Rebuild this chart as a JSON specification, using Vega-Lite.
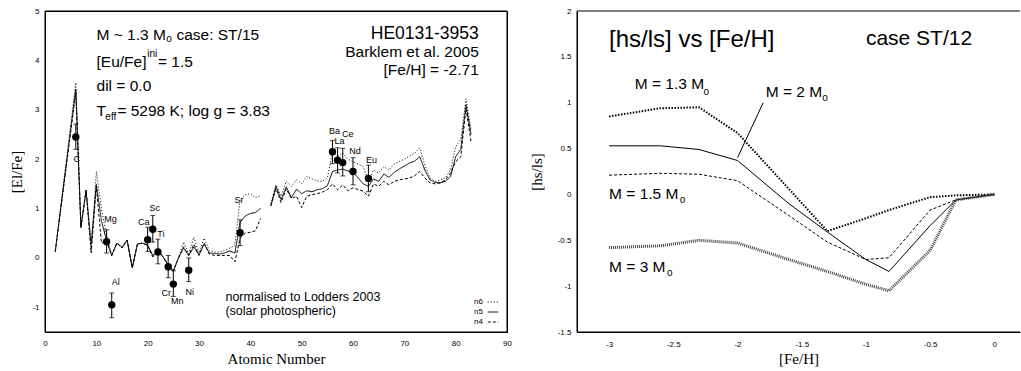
{
"$schema":"https://vega.github.io/schema/vega-lite/v6.json",
"padding":{"left":8,"top":6,"right":0,"bottom":0},
"spacing":17,
"resolve":{"scale":{"strokeDash":"independent"},"legend":{"strokeDash":"independent"}},
"config":{"view":{"stroke":null},"font":"Liberation Sans","axis":{"labelFont":"Liberation Sans","labelColor":"black","domainColor":"black","domainWidth":1,"tickColor":"black","titleColor":"black","titleFont":"Liberation Serif","titleFontWeight":"normal","titleFontSize":15,"labelFontSize":8,"grid":false,"labelFlush":false,"labelExpr":"'' + datum.value"},"text":{"font":"Liberation Sans","color":"black"}},
"datasets":{
"elem":[
{"Z":2,"s":"a","n6":0.13,"n5":0.13,"n4":0.13},
{"Z":6,"s":"a","n6":3.55,"n5":3.42,"n4":3.35},
{"Z":7,"s":"a","n6":0.62,"n5":0.62,"n4":0.62},
{"Z":8,"s":"a","n6":1.37,"n5":1.37,"n4":1.37},
{"Z":9,"s":"a","n6":0.12,"n5":0.28,"n4":0.10},
{"Z":10,"s":"a","n6":1.75,"n5":1.49,"n4":1.45},
{"Z":11,"s":"a","n6":1.00,"n5":0.75,"n4":0.30},
{"Z":12,"s":"a","n6":0.45,"n5":0.35,"n4":0.35},
{"Z":13,"s":"a","n6":0.05,"n5":0.05,"n4":0.05},
{"Z":14,"s":"a","n6":0.30,"n5":0.30,"n4":0.30},
{"Z":15,"s":"a","n6":0.20,"n5":0.22,"n4":0.20},
{"Z":16,"s":"a","n6":0.36,"n5":0.36,"n4":0.36},
{"Z":17,"s":"a","n6":-0.20,"n5":-0.20,"n4":-0.20},
{"Z":18,"s":"a","n6":0.28,"n5":0.28,"n4":0.28},
{"Z":19,"s":"a","n6":0.30,"n5":0.30,"n4":0.30},
{"Z":20,"s":"a","n6":0.25,"n5":0.26,"n4":0.25},
{"Z":21,"s":"a","n6":0.02,"n5":0.05,"n4":0.02},
{"Z":22,"s":"a","n6":0.15,"n5":0.15,"n4":0.15},
{"Z":23,"s":"a","n6":0.02,"n5":0.02,"n4":0.02},
{"Z":24,"s":"a","n6":-0.12,"n5":-0.15,"n4":-0.15},
{"Z":25,"s":"a","n6":-0.25,"n5":-0.27,"n4":-0.27},
{"Z":26,"s":"a","n6":0,"n5":0,"n4":0},
{"Z":27,"s":"a","n6":0.32,"n5":0.20,"n4":0.22},
{"Z":28,"s":"a","n6":0.08,"n5":0.05,"n4":0.05},
{"Z":29,"s":"a","n6":0.42,"n5":0.22,"n4":0.28},
{"Z":30,"s":"a","n6":0.10,"n5":0.06,"n4":0.05},
{"Z":31,"s":"a","n6":0.40,"n5":0.28,"n4":0.30},
{"Z":32,"s":"a","n6":0.15,"n5":0.10,"n4":0.08},
{"Z":33,"s":"a","n6":0.12,"n5":0.09,"n4":0.05},
{"Z":34,"s":"a","n6":0.12,"n5":0.08,"n4":0.05},
{"Z":35,"s":"a","n6":0.15,"n5":0.10,"n4":0.05},
{"Z":36,"s":"a","n6":0.20,"n5":0.14,"n4":0.05},
{"Z":37,"s":"a","n6":0.25,"n5":0.10,"n4":-0.08},
{"Z":38,"s":"a","n6":1.18,"n5":0.72,"n4":0.40},
{"Z":39,"s":"a","n6":1.28,"n5":0.85,"n4":0.50},
{"Z":40,"s":"a","n6":1.30,"n5":0.90,"n4":0.52},
{"Z":41,"s":"a","n6":1.22,"n5":0.92,"n4":0.55},
{"Z":42,"s":"a","n6":1.26,"n5":1.00,"n4":0.80},
{"Z":44,"s":"b","n6":1.10,"n5":1.06,"n4":1.05},
{"Z":45,"s":"b","n6":1.48,"n5":1.45,"n4":1.40},
{"Z":46,"s":"b","n6":1.25,"n5":1.18,"n4":1.12},
{"Z":47,"s":"b","n6":1.55,"n5":1.44,"n4":1.40},
{"Z":48,"s":"b","n6":1.45,"n5":1.22,"n4":1.20},
{"Z":49,"s":"b","n6":1.58,"n5":1.39,"n4":1.25},
{"Z":50,"s":"b","n6":1.50,"n5":1.30,"n4":1.02},
{"Z":51,"s":"b","n6":1.65,"n5":1.36,"n4":1.25},
{"Z":52,"s":"b","n6":1.60,"n5":1.34,"n4":1.28},
{"Z":53,"s":"b","n6":1.56,"n5":1.38,"n4":1.30},
{"Z":54,"s":"b","n6":1.55,"n5":1.40,"n4":1.33},
{"Z":55,"s":"b","n6":1.62,"n5":1.46,"n4":1.38},
{"Z":56,"s":"b","n6":2.15,"n5":1.75,"n4":1.50},
{"Z":57,"s":"b","n6":2.05,"n5":1.78,"n4":1.38},
{"Z":58,"s":"b","n6":2.12,"n5":1.80,"n4":1.48},
{"Z":59,"s":"b","n6":2.00,"n5":1.76,"n4":1.36},
{"Z":60,"s":"b","n6":1.95,"n5":1.74,"n4":1.42},
{"Z":62,"s":"b","n6":1.85,"n5":1.50,"n4":1.35},
{"Z":63,"s":"b","n6":1.55,"n5":1.45,"n4":1.25},
{"Z":64,"s":"b","n6":1.78,"n5":1.60,"n4":1.50},
{"Z":65,"s":"b","n6":1.72,"n5":1.55,"n4":1.45},
{"Z":66,"s":"b","n6":1.85,"n5":1.70,"n4":1.55},
{"Z":67,"s":"b","n6":1.78,"n5":1.63,"n4":1.48},
{"Z":68,"s":"b","n6":1.90,"n5":1.73,"n4":1.55},
{"Z":69,"s":"b","n6":1.95,"n5":1.80,"n4":1.58},
{"Z":70,"s":"b","n6":2.00,"n5":1.86,"n4":1.60},
{"Z":71,"s":"b","n6":2.06,"n5":1.92,"n4":1.62},
{"Z":72,"s":"b","n6":2.12,"n5":1.96,"n4":1.66},
{"Z":73,"s":"b","n6":2.23,"n5":2.05,"n4":1.75},
{"Z":74,"s":"b","n6":1.88,"n5":1.78,"n4":1.62},
{"Z":75,"s":"b","n6":1.62,"n5":1.58,"n4":1.52},
{"Z":76,"s":"b","n6":1.55,"n5":1.53,"n4":1.50},
{"Z":77,"s":"b","n6":1.58,"n5":1.52,"n4":1.52},
{"Z":78,"s":"b","n6":1.62,"n5":1.55,"n4":1.58},
{"Z":79,"s":"b","n6":1.78,"n5":1.65,"n4":1.72},
{"Z":80,"s":"b","n6":2.25,"n5":2.05,"n4":1.95},
{"Z":81,"s":"b","n6":2.40,"n5":2.20,"n4":2.05},
{"Z":82,"s":"b","n6":3.22,"n5":3.10,"n4":3.02},
{"Z":83,"s":"b","n6":2.60,"n5":2.50,"n4":2.35}
],
"obs":[
{"el":"C","Z":6,"v":2.45,"lo":2.20,"hi":2.71},
{"el":"Mg","Z":12,"v":0.33,"lo":0.10,"hi":0.57},
{"el":"Al","Z":13,"v":-0.95,"lo":-1.21,"hi":-0.71},
{"el":"Ca","Z":20,"v":0.37,"lo":0.13,"hi":0.62},
{"el":"Sc","Z":21,"v":0.58,"lo":0.32,"hi":0.86},
{"el":"Ti","Z":22,"v":0.12,"lo":-0.12,"hi":0.38},
{"el":"Cr","Z":24,"v":-0.18,"lo":-0.40,"hi":0.05},
{"el":"Mn","Z":25,"v":-0.53,"lo":-0.78,"hi":-0.26},
{"el":"Ni","Z":28,"v":-0.25,"lo":-0.48,"hi":0.0},
{"el":"Sr","Z":38,"v":0.51,"lo":0.25,"hi":0.77},
{"el":"Ba","Z":56,"v":2.15,"lo":1.91,"hi":2.38},
{"el":"La","Z":57,"v":1.98,"lo":1.72,"hi":2.23},
{"el":"Ce","Z":58,"v":1.93,"lo":1.66,"hi":2.22},
{"el":"Nd","Z":60,"v":1.75,"lo":1.48,"hi":2.03},
{"el":"Eu","Z":63,"v":1.61,"lo":1.34,"hi":1.88}
],
"hs":[
{"fe":-3.0,"m13":0.85,"m2":0.53,"m15":0.21,"m3":-0.58},
{"fe":-2.6,"m13":0.94,"m2":0.53,"m15":0.23,"m3":-0.56},
{"fe":-2.3,"m13":0.95,"m2":0.49,"m15":0.22,"m3":-0.50},
{"fe":-2.0,"m13":0.67,"m2":0.37,"m15":0.15,"m3":-0.53},
{"fe":-1.6,"m13":0.06,"m2":-0.10,"m15":-0.23,"m3":-0.71},
{"fe":-1.3,"m13":-0.40,"m2":-0.41,"m15":-0.52,"m3":-0.84},
{"fe":-1.0,"m13":-0.26,"m2":-0.71,"m15":-0.71,"m3":-0.98},
{"fe":-0.82,"m13":-0.17,"m2":-0.84,"m15":-0.69,"m3":-1.05},
{"fe":-0.5,"m13":-0.03,"m2":-0.34,"m15":-0.17,"m3":-0.61},
{"fe":-0.3,"m13":-0.01,"m2":-0.06,"m15":-0.06,"m3":-0.06},
{"fe":0.0,"m13":0,"m2":0,"m15":0,"m3":0}
]
},
"hconcat":[
{
"width":462,"height":321,
"view":{"stroke":"black","strokeWidth":1},
"resolve":{"axis":{"x":"independent","y":"independent"}},
"layer":[
{"data":{"name":"elem"},
"transform":[{"fold":["n6","n5","n4"],"as":["model","val"]}],
"mark":{"type":"line","color":"black","strokeWidth":1},
"encoding":{
"x":{"field":"Z","type":"quantitative","scale":{"domain":[0,90],"nice":false,"zero":false},
 "axis":{"orient":"bottom","values":[0,10,20,30,40,50,60,70,80,90],"ticks":false,"labelPadding":7,"title":"Atomic Number","titleY":31,"titleBaseline":"alphabetic"}},
"y":{"field":"val","type":"quantitative","scale":{"domain":[-1.5,5],"nice":false,"zero":false},
 "axis":{"orient":"left","values":[-1,0,1,2,3,4,5],"ticks":false,"labelPadding":6,"title":"[El/Fe]","titleX":-29,"titleBaseline":"middle"}},
"strokeDash":{"field":"model","type":"nominal","scale":{"domain":["n6","n5","n4"],"range":[[1,2],[1,0],[3,2]]},
 "legend":{"orient":"bottom-right","title":null,"symbolType":"stroke","symbolSize":110,"symbolStrokeColor":"black","symbolStrokeWidth":1,"labelFontSize":8,"labelColor":"black","labelAlign":"right","labelOffset":-16,"rowPadding":0,"offset":6,"padding":0}},
"detail":{"field":"s"}}},
{"data":{"values":[{}]},"mark":{"type":"rule","color":"black","strokeWidth":1},"encoding":{"y":{"datum":5,"type":"quantitative","axis":null}}},
{"data":{"values":[{}]},"mark":{"type":"rule","color":"black","strokeWidth":1},"encoding":{"y":{"datum":-1.5,"type":"quantitative","axis":null}}},
{"data":{"values":[{}]},"mark":{"type":"rule","color":"black","strokeWidth":1},"encoding":{"x":{"datum":0,"type":"quantitative","axis":null}}},
{"data":{"values":[{}]},"mark":{"type":"rule","color":"black","strokeWidth":1},"encoding":{"x":{"datum":90,"type":"quantitative","axis":null}}},
{"data":{"name":"obs"},
"mark":{"type":"errorbar","ticks":{"size":5},"color":"black","thickness":1},
"encoding":{"x":{"field":"Z","type":"quantitative","axis":null},"y":{"field":"lo","type":"quantitative","axis":null},"y2":{"field":"hi"}}},
{"data":{"name":"obs"},
"mark":{"type":"circle","color":"black","size":55,"opacity":1},
"encoding":{"x":{"field":"Z","type":"quantitative","axis":null},"y":{"field":"v","type":"quantitative","axis":null}}},
{"data":{"name":"obs"},"transform":[{"filter":{"field":"el","oneOf":["Mg","Al"]}}],"mark":{"type":"text","fontSize":9,"dx":4,"dy":-23,"baseline":"middle"},"encoding":{"x":{"field":"Z","type":"quantitative","axis":null},"y":{"field":"v","type":"quantitative","axis":null},"text":{"field":"el"}}},
{"data":{"name":"obs"},"transform":[{"filter":{"field":"el","oneOf":["Sc","Nd","Ba"]}}],"mark":{"type":"text","fontSize":9,"dx":2,"dy":-21,"baseline":"middle"},"encoding":{"x":{"field":"Z","type":"quantitative","axis":null},"y":{"field":"v","type":"quantitative","axis":null},"text":{"field":"el"}}},
{"data":{"name":"obs"},"transform":[{"filter":{"field":"el","oneOf":["La"]}}],"mark":{"type":"text","fontSize":9,"dx":2,"dy":-19,"baseline":"middle"},"encoding":{"x":{"field":"Z","type":"quantitative","axis":null},"y":{"field":"v","type":"quantitative","axis":null},"text":{"field":"el"}}},
{"data":{"name":"obs"},"transform":[{"filter":{"field":"el","oneOf":["Ti","Eu"]}}],"mark":{"type":"text","fontSize":9,"dx":3,"dy":-18,"baseline":"middle"},"encoding":{"x":{"field":"Z","type":"quantitative","axis":null},"y":{"field":"v","type":"quantitative","axis":null},"text":{"field":"el"}}},
{"data":{"name":"obs"},"transform":[{"filter":{"field":"el","oneOf":["Ca"]}}],"mark":{"type":"text","fontSize":9,"dx":-4,"dy":-18,"baseline":"middle"},"encoding":{"x":{"field":"Z","type":"quantitative","axis":null},"y":{"field":"v","type":"quantitative","axis":null},"text":{"field":"el"}}},
{"data":{"name":"obs"},"transform":[{"filter":{"field":"el","oneOf":["Ce"]}}],"mark":{"type":"text","fontSize":9,"dx":5,"dy":-29,"baseline":"middle"},"encoding":{"x":{"field":"Z","type":"quantitative","axis":null},"y":{"field":"v","type":"quantitative","axis":null},"text":{"field":"el"}}},
{"data":{"name":"obs"},"transform":[{"filter":{"field":"el","oneOf":["Sr"]}}],"mark":{"type":"text","fontSize":9,"dx":-1,"dy":-33,"baseline":"middle"},"encoding":{"x":{"field":"Z","type":"quantitative","axis":null},"y":{"field":"v","type":"quantitative","axis":null},"text":{"field":"el"}}},
{"data":{"name":"obs"},"transform":[{"filter":{"field":"el","oneOf":["C","Ni"]}}],"mark":{"type":"text","fontSize":9,"dx":1,"dy":22,"baseline":"middle"},"encoding":{"x":{"field":"Z","type":"quantitative","axis":null},"y":{"field":"v","type":"quantitative","axis":null},"text":{"field":"el"}}},
{"data":{"name":"obs"},"transform":[{"filter":{"field":"el","oneOf":["Cr"]}}],"mark":{"type":"text","fontSize":9,"dx":-2,"dy":26,"baseline":"middle"},"encoding":{"x":{"field":"Z","type":"quantitative","axis":null},"y":{"field":"v","type":"quantitative","axis":null},"text":{"field":"el"}}},
{"data":{"name":"obs"},"transform":[{"filter":{"field":"el","oneOf":["Mn"]}}],"mark":{"type":"text","fontSize":9,"dx":4,"dy":17,"baseline":"middle"},"encoding":{"x":{"field":"Z","type":"quantitative","axis":null},"y":{"field":"v","type":"quantitative","axis":null},"text":{"field":"el"}}},
{"data":{"values":[{}]},"mark":{"type":"text","text":"M ~ 1.3 M","fontSize":15.5,"align":"left","baseline":"alphabetic"},"encoding":{"x":{"datum":10.04,"type":"quantitative","axis":null},"y":{"datum":4.42,"type":"quantitative","axis":null}}},
{"data":{"values":[{}]},"mark":{"type":"text","text":"o","fontSize":10,"align":"left","baseline":"alphabetic"},"encoding":{"x":{"datum":23.6,"type":"quantitative","axis":null},"y":{"datum":4.37,"type":"quantitative","axis":null}}},
{"data":{"values":[{}]},"mark":{"type":"text","text":"case: ST/15","fontSize":15.5,"align":"left","baseline":"alphabetic"},"encoding":{"x":{"datum":25.6,"type":"quantitative","axis":null},"y":{"datum":4.42,"type":"quantitative","axis":null}}},
{"data":{"values":[{}]},"mark":{"type":"text","text":"[Eu/Fe]","fontSize":15.5,"align":"left","baseline":"alphabetic"},"encoding":{"x":{"datum":10.04,"type":"quantitative","axis":null},"y":{"datum":3.87,"type":"quantitative","axis":null}}},
{"data":{"values":[{}]},"mark":{"type":"text","text":"ini","fontSize":10,"align":"left","baseline":"alphabetic"},"encoding":{"x":{"datum":19.9,"type":"quantitative","axis":null},"y":{"datum":4.07,"type":"quantitative","axis":null}}},
{"data":{"values":[{}]},"mark":{"type":"text","text":"= 1.5","fontSize":15.5,"align":"left","baseline":"alphabetic"},"encoding":{"x":{"datum":22.0,"type":"quantitative","axis":null},"y":{"datum":3.87,"type":"quantitative","axis":null}}},
{"data":{"values":[{}]},"mark":{"type":"text","text":"dil = 0.0","fontSize":15.5,"align":"left","baseline":"alphabetic"},"encoding":{"x":{"datum":10.04,"type":"quantitative","axis":null},"y":{"datum":3.37,"type":"quantitative","axis":null}}},
{"data":{"values":[{}]},"mark":{"type":"text","text":"T","fontSize":15.5,"align":"left","baseline":"alphabetic"},"encoding":{"x":{"datum":10.04,"type":"quantitative","axis":null},"y":{"datum":2.87,"type":"quantitative","axis":null}}},
{"data":{"values":[{}]},"mark":{"type":"text","text":"eff","fontSize":10,"align":"left","baseline":"alphabetic"},"encoding":{"x":{"datum":11.75,"type":"quantitative","axis":null},"y":{"datum":2.79,"type":"quantitative","axis":null}}},
{"data":{"values":[{}]},"mark":{"type":"text","text":"= 5298 K; log g = 3.83","fontSize":15.5,"align":"left","baseline":"alphabetic"},"encoding":{"x":{"datum":14.1,"type":"quantitative","axis":null},"y":{"datum":2.87,"type":"quantitative","axis":null}}},
{"data":{"values":[{}]},"mark":{"type":"text","text":"HE0131-3953","fontSize":17.5,"align":"right","baseline":"alphabetic"},"encoding":{"x":{"datum":84.5,"type":"quantitative","axis":null},"y":{"datum":4.44,"type":"quantitative","axis":null}}},
{"data":{"values":[{}]},"mark":{"type":"text","text":"Barklem et al. 2005","fontSize":15.5,"align":"right","baseline":"alphabetic"},"encoding":{"x":{"datum":84.5,"type":"quantitative","axis":null},"y":{"datum":4.07,"type":"quantitative","axis":null}}},
{"data":{"values":[{}]},"mark":{"type":"text","text":"[Fe/H] = -2.71","fontSize":15.5,"align":"right","baseline":"alphabetic"},"encoding":{"x":{"datum":84.5,"type":"quantitative","axis":null},"y":{"datum":3.70,"type":"quantitative","axis":null}}},
{"data":{"values":[{}]},"mark":{"type":"text","text":"normalised to Lodders 2003","fontSize":12.5,"align":"left","baseline":"alphabetic"},"encoding":{"x":{"datum":35.15,"type":"quantitative","axis":null},"y":{"datum":-0.88,"type":"quantitative","axis":null}}},
{"data":{"values":[{}]},"mark":{"type":"text","text":"(solar photospheric)","fontSize":12.5,"align":"left","baseline":"alphabetic"},"encoding":{"x":{"datum":35.15,"type":"quantitative","axis":null},"y":{"datum":-1.15,"type":"quantitative","axis":null}}}
]
},
{
"width":443,"height":321,
"resolve":{"axis":{"x":"independent","y":"independent"}},
"transform":[{"fold":["m13","m2","m15","m3"],"as":["mass","val"]}],
"data":{"name":"hs"},
"layer":[
{"transform":[{"filter":{"field":"mass","equal":"m13"}}],
"mark":{"type":"line","color":"black","strokeWidth":2,"strokeDash":[1.5,1.5]},
"encoding":{
"x":{"field":"fe","type":"quantitative","scale":{"domain":[-3.25,0.2],"nice":false,"zero":false},
 "axis":{"orient":"bottom","values":[-3,-2.5,-2,-1.5,-1,-0.5,0],"ticks":false,"labelPadding":8,"title":"[Fe/H]","titleY":31,"titleBaseline":"alphabetic"}},
"y":{"field":"val","type":"quantitative","scale":{"domain":[-1.5,2],"nice":false,"zero":false},
 "axis":{"orient":"left","values":[-1.5,-1,-0.5,0,0.5,1,1.5,2],"ticks":false,"labelPadding":6,"title":"[hs/ls]","titleX":-41,"titleBaseline":"middle"}}}},
{"transform":[{"filter":{"field":"mass","equal":"m2"}}],
"mark":{"type":"line","color":"black","strokeWidth":1},
"encoding":{"x":{"field":"fe","type":"quantitative","axis":null},"y":{"field":"val","type":"quantitative","axis":null}}},
{"transform":[{"filter":{"field":"mass","equal":"m15"}}],
"mark":{"type":"line","color":"black","strokeWidth":1,"strokeDash":[3,2]},
"encoding":{"x":{"field":"fe","type":"quantitative","axis":null},"y":{"field":"val","type":"quantitative","axis":null}}},
{"transform":[{"filter":{"field":"mass","equal":"m3"}}],
"mark":{"type":"line","color":"#444444","strokeWidth":3,"strokeDash":[1,1]},
"encoding":{"x":{"field":"fe","type":"quantitative","axis":null},"y":{"field":"val","type":"quantitative","axis":null}}},
{"data":{"values":[{}]},"mark":{"type":"rule","color":"black","strokeWidth":1},"encoding":{"y":{"datum":2,"type":"quantitative","axis":null}}},
{"data":{"values":[{}]},"mark":{"type":"rule","color":"black","strokeWidth":1},"encoding":{"y":{"datum":-1.5,"type":"quantitative","axis":null}}},
{"data":{"values":[{}]},"mark":{"type":"rule","color":"black","strokeWidth":1},"encoding":{"x":{"datum":-3.25,"type":"quantitative","axis":null}}},
{"data":{"values":[{}]},"mark":{"type":"rule","color":"black","strokeWidth":1},
"encoding":{"x":{"datum":-1.8,"type":"quantitative","axis":null},"y":{"datum":1.0,"type":"quantitative","axis":null},"x2":{"datum":-2.0},"y2":{"datum":0.40}}},
{"data":{"values":[{}]},"mark":{"type":"text","text":"[hs/ls] vs [Fe/H]","fontSize":24,"align":"left","baseline":"alphabetic"},"encoding":{"x":{"datum":-3.0,"type":"quantitative","axis":null},"y":{"datum":1.608,"type":"quantitative","axis":null}}},
{"data":{"values":[{}]},"mark":{"type":"text","text":"case ST/12","fontSize":21,"align":"left","baseline":"alphabetic"},"encoding":{"x":{"datum":-1.0,"type":"quantitative","axis":null},"y":{"datum":1.627,"type":"quantitative","axis":null}}},
{"data":{"values":[{}]},"mark":{"type":"text","text":"M = 1.3 M","fontSize":15.5,"align":"left","baseline":"alphabetic"},"encoding":{"x":{"datum":-2.8,"type":"quantitative","axis":null},"y":{"datum":1.154,"type":"quantitative","axis":null}}},
{"data":{"values":[{}]},"mark":{"type":"text","text":"o","fontSize":10,"align":"left","baseline":"alphabetic"},"encoding":{"x":{"datum":-2.265,"type":"quantitative","axis":null},"y":{"datum":1.081,"type":"quantitative","axis":null}}},
{"data":{"values":[{}]},"mark":{"type":"text","text":"M = 2 M","fontSize":15.5,"align":"left","baseline":"alphabetic"},"encoding":{"x":{"datum":-1.78,"type":"quantitative","axis":null},"y":{"datum":1.062,"type":"quantitative","axis":null}}},
{"data":{"values":[{}]},"mark":{"type":"text","text":"o","fontSize":10,"align":"left","baseline":"alphabetic"},"encoding":{"x":{"datum":-1.34,"type":"quantitative","axis":null},"y":{"datum":1.015,"type":"quantitative","axis":null}}},
{"data":{"values":[{}]},"mark":{"type":"text","text":"M = 1.5 M","fontSize":15.5,"align":"left","baseline":"alphabetic"},"encoding":{"x":{"datum":-3.0,"type":"quantitative","axis":null},"y":{"datum":-0.047,"type":"quantitative","axis":null}}},
{"data":{"values":[{}]},"mark":{"type":"text","text":"o","fontSize":10,"align":"left","baseline":"alphabetic"},"encoding":{"x":{"datum":-2.45,"type":"quantitative","axis":null},"y":{"datum":-0.095,"type":"quantitative","axis":null}}},
{"data":{"values":[{}]},"mark":{"type":"text","text":"M = 3 M","fontSize":15.5,"align":"left","baseline":"alphabetic"},"encoding":{"x":{"datum":-3.0,"type":"quantitative","axis":null},"y":{"datum":-0.848,"type":"quantitative","axis":null}}},
{"data":{"values":[{}]},"mark":{"type":"text","text":"o","fontSize":10,"align":"left","baseline":"alphabetic"},"encoding":{"x":{"datum":-2.55,"type":"quantitative","axis":null},"y":{"datum":-0.884,"type":"quantitative","axis":null}}}
]
}
]
}
